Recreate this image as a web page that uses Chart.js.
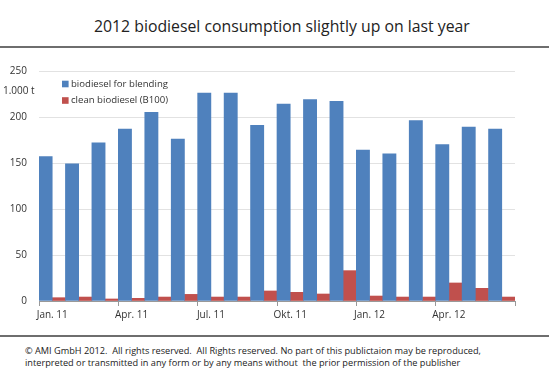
<!DOCTYPE html>
<html>
<head>
<meta charset="utf-8">
<script src="https://cdn.jsdelivr.net/npm/chart.js@4.4.1/dist/chart.umd.min.js"></script>
<style>
  body { margin: 0; background: #fff; font-family: "Open Sans", sans-serif; }
  #page { position: relative; width: 549px; height: 375px; overflow: hidden; }
  #title { position: absolute; left: 94px; top: 15px; font-size: 15.8px; color: #222; white-space: nowrap; }
  .rule { position: absolute; left: 0; width: 549px; height: 2px; background: #6e6e6e; }
  #box { position: absolute; left: 0; top: 50px; width: 549px; height: 280px; }
  #footer { position: absolute; left: 25px; top: 345px; font-size: 9.2px; line-height: 12.3px; color: #222; white-space: nowrap; }
</style>
</head>
<body>
<div id="page">
  <div id="title">2012 biodiesel consumption slightly up on last year</div>
  <div class="rule" style="top:46px"></div>
  <div id="box"><canvas id="chart"></canvas></div>
  <div class="rule" style="top:335px"></div>
  <div id="footer">© AMI GmbH 2012.&nbsp; All rights reserved.&nbsp; All Rights reserved. No part of this publictaion may be reproduced,<br>interpreted or transmitted in any form or by any means without&nbsp; the prior permission of the publisher</div>
</div>
<script>
const months = ['Jan. 11', 'Feb. 11', 'Mär. 11', 'Apr. 11', 'Mai 11', 'Jun. 11',
                'Jul. 11', 'Aug. 11', 'Sep. 11', 'Okt. 11', 'Nov. 11', 'Dez. 11',
                'Jan. 12', 'Feb. 12', 'Mär. 12', 'Apr. 12', 'Mai 12', 'Jun. 12'];
const blending = [157, 149, 172, 187, 205, 176, 226, 226, 191, 214, 219, 217, 164, 160, 196, 170, 189, 187];
const b100 = [3.6, 4.3, 2.2, 2.9, 4.3, 7.2, 4.3, 4.3, 10.9, 9.4, 7.6, 33, 5.4, 4.3, 4.3, 19.6, 13.8, 4.3];
const yTicks = [0, 50, 100, 150, 200, 250];
const unitLabel = '1.000 t';

const font = { family: 'Open Sans', size: 10 };

// legend drawn inside the plot, top left
const insideLegend = {
    id: 'insideLegend',
    afterDraw(chart) {
        const c = chart.ctx;
        const a = chart.chartArea;
        c.save();
        c.font = '9.6px "Open Sans"';
        c.textBaseline = 'middle';
        c.textAlign = 'left';
        chart.data.datasets.forEach((ds, i) => {
            const y = a.top + 13 + i * 16.5;
            c.fillStyle = ds.backgroundColor;
            c.fillRect(a.left + 23, y - 3.3, 6.6, 6.6);
            c.fillStyle = '#333';
            c.fillText(ds.label, a.left + 32, y);
        });
        c.font = '10px "Open Sans"';
        c.fillText(unitLabel, 3, a.top + 20);
        c.restore();
    }
};

new Chart(document.getElementById('chart'), {
    type: 'bar',
    data: {
        labels: months,
        datasets: [
            { label: 'biodiesel for blending', data: blending, backgroundColor: '#4f81bd' },
            { label: 'clean biodiesel (B100)', data: b100, backgroundColor: '#c0504d' }
        ]
    },
    options: {
        responsive: true,
        maintainAspectRatio: false,
        animation: false,
        layout: { padding: { top: 21, right: 34, left: 0, bottom: 0 } },
        datasets: { bar: { barPercentage: 1, categoryPercentage: 1 } },
        plugins: {
            legend: { display: false },
            tooltip: { enabled: false }
        },
        scales: {
            x: {
                grid: {
                    offset: true,
                    drawOnChartArea: false,
                    tickLength: 5,
                    tickColor: ctx => (ctx.index === undefined || ctx.index % 3 === 0) ? '#999' : 'transparent'
                },
                border: { color: '#999' },
                ticks: {
                    autoSkip: false,
                    maxRotation: 0,
                    padding: 3,
                    color: '#333',
                    font: font,
                    callback: function (v, i) { return i % 3 === 0 ? this.getLabelForValue(v) : ''; }
                },
                afterFit: s => { s.height = 29; }
            },
            y: {
                min: 0,
                max: 250,
                afterBuildTicks: s => { s.ticks = yTicks.map(v => ({ value: v })); },
                grid: { color: '#e2e2e2', drawTicks: false },
                border: { display: false },
                ticks: { padding: 12, color: '#333', font: font },
                afterFit: s => { s.width = 39; }
            }
        }
    },
    plugins: [insideLegend]
});
</script>
</body>
</html>
